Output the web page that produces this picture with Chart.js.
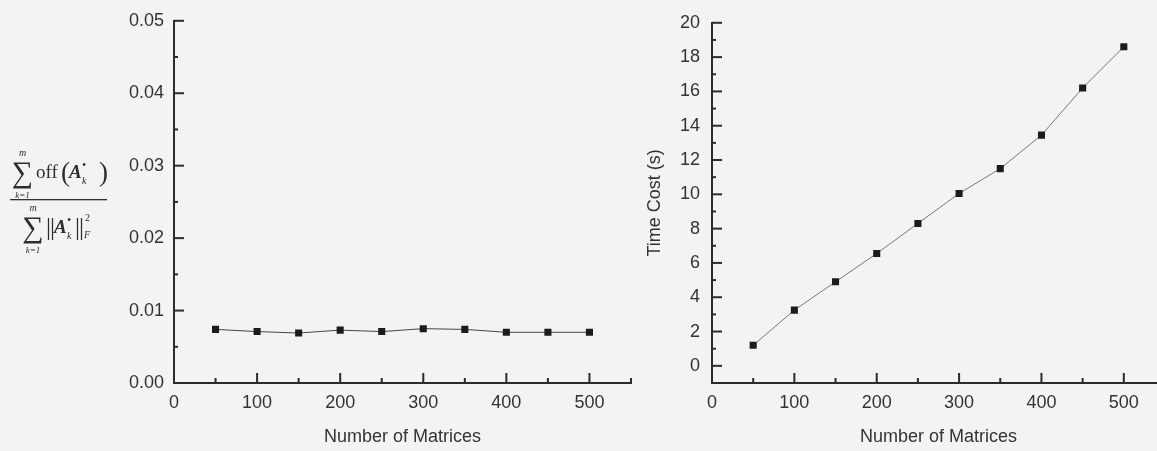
<!DOCTYPE html>
<html lang="en">
<head>
  <meta charset="UTF-8">
  <title>Off-diagonal ratio and time cost</title>
  <script src="https://cdn.jsdelivr.net/npm/chart.js"></script>
  <style>
    body { margin: 0; background: #f3f3f3; overflow: hidden; width: 1157px; height: 451px; position: relative; }
    canvas { position: absolute; top: 0; }
    #ratioChart { left: 0; }
    #timeChart { left: 640px; }
  </style>
</head>
<body>
  <canvas id="ratioChart" width="645" height="451"></canvas>
  <canvas id="timeChart" width="537" height="451"></canvas>

  <script>
    const matrixCounts = [50, 100, 150, 200, 250, 300, 350, 400, 450, 500];
    const offRatio = [0.0074, 0.0071, 0.0069, 0.0073, 0.0071, 0.0075, 0.0074, 0.0070, 0.0070, 0.0070];
    const timeCost = [1.2, 3.25, 4.9, 6.55, 8.3, 10.05, 11.5, 13.45, 16.2, 18.6];

    const countTicks = [0, 100, 200, 300, 400, 500];
    const ratioTicks = [0, 0.01, 0.02, 0.03, 0.04, 0.05];
    const timeTicks = [0, 2, 4, 6, 8, 10, 12, 14, 16, 18, 20];

    const ink = '#2b2b2b';
    Chart.defaults.font.family = '"Liberation Sans", Arial, sans-serif';
    Chart.defaults.color = '#333';

    // short tick marks pointing into the plot, with half-step minor ticks
    const innerTicks = {
      id: 'innerTicks',
      afterDraw(chart) {
        const { ctx, chartArea: area, scales: { x, y } } = chart;
        ctx.save();
        ctx.strokeStyle = ink;
        ctx.lineWidth = 2;
        const mark = (x1, y1, x2, y2) => {
          ctx.beginPath(); ctx.moveTo(x1, y1); ctx.lineTo(x2, y2); ctx.stroke();
        };
        const withMinor = ticks => {
          const out = [];
          const step = ticks[1] - ticks[0];
          ticks.forEach(v => { out.push([v, true]); out.push([v + step / 2, false]); });
          return out;
        };
        withMinor(x.ticks.map(t => t.value)).forEach(([v, major]) => {
          if (v <= x.min || v > x.max + 1e-9) return;
          const px = x.getPixelForValue(v);
          mark(px, area.bottom, px, area.bottom - (major ? 10 : 5));
        });
        withMinor(y.ticks.map(t => t.value)).forEach(([v, major]) => {
          if (v <= y.min || v > y.max + 1e-9) return;
          const py = y.getPixelForValue(v);
          mark(area.left, py, area.left + (major ? 10 : 4), py);
        });
        ctx.restore();
      }
    };

    // y label of the first panel: sum of off(A_k*) over sum of ||A_k*||_F^2
    const ratioLabel = {
      id: 'ratioLabel',
      afterDraw(chart) {
        const ctx = chart.ctx;
        const serif = '"Liberation Serif", "DejaVu Serif", serif';
        ctx.save();
        ctx.fillStyle = '#2e2e2e';
        const put = (s, x, y, size, style = '', align = 'left') => {
          ctx.font = `${style} ${size}px ${serif}`;
          ctx.textAlign = align;
          ctx.fillText(s, x, y);
        };
        // numerator
        put('\u2211', 22.5, 182, 30, '', 'center');
        put('m', 22.5, 156, 10, 'italic', 'center');
        put('k=1', 22.5, 198, 9, 'italic', 'center');
        put('off', 36, 178, 19);
        put('(', 61, 181, 27);
        put('A', 69, 178, 19, 'italic bold');
        put('k', 82, 184, 10, 'italic');
        put('\u2022', 82, 169, 12);
        put(')', 99, 181, 27);
        ctx.fillRect(10, 199, 97, 1.3);
        // denominator
        put('\u2211', 33, 237, 30, '', 'center');
        put('m', 33, 211, 10, 'italic', 'center');
        put('k=1', 33, 253, 9, 'italic', 'center');
        put('|', 46, 235, 25);
        put('|', 50, 235, 25);
        put('A', 54, 233, 19, 'italic bold');
        put('k', 67, 239, 10, 'italic');
        put('\u2022', 67, 224, 12);
        put('|', 75, 235, 25);
        put('|', 79, 235, 25);
        put('2', 85, 221, 10);
        put('F', 84, 238, 10, 'italic');
        ctx.restore();
      }
    };

    function lineChart(canvasId, values, yTicks, yMin, yMax, opts) {
      return new Chart(document.getElementById(canvasId), {
        type: 'line',
        data: {
          datasets: [{
            data: matrixCounts.map((n, i) => ({ x: n, y: values[i] })),
            borderColor: opts.lineColor,
            borderWidth: 1,
            pointStyle: 'rect',
            pointRadius: 5,
            pointBorderWidth: 0,
            pointBackgroundColor: '#1b1b1b'
          }]
        },
        options: {
          responsive: false,
          animation: false,
          layout: { padding: { top: 20, right: opts.padRight, left: 0, bottom: 0 } },
          plugins: { legend: { display: false }, tooltip: { enabled: false } },
          scales: {
            x: {
              type: 'linear',
              min: 0,
              max: 550,
              afterBuildTicks: s => { s.ticks = countTicks.map(v => ({ value: v })); },
              afterFit: s => { s.height = 68; },
              grid: { drawOnChartArea: false, drawTicks: false },
              border: { color: ink, width: 2 },
              ticks: { padding: 9, font: { size: 18 } },
              title: { display: true, text: 'Number of Matrices', font: { size: 18 }, padding: { top: 0, bottom: 3 } }
            },
            y: {
              min: yMin,
              max: yMax,
              afterBuildTicks: s => { s.ticks = yTicks.map(v => ({ value: v })); },
              afterFit: s => { s.width = opts.axisWidth; },
              grid: { drawOnChartArea: false, drawTicks: false },
              border: { color: ink, width: 2 },
              ticks: { padding: opts.labelGap, font: { size: 18 }, callback: opts.format },
              title: opts.yTitle
            }
          }
        },
        plugins: opts.plugins
      });
    }

    lineChart('ratioChart', offRatio, ratioTicks, 0, 0.05, {
      lineColor: '#444',
      padRight: 14,
      axisWidth: 174,
      labelGap: 10,
      format: v => v.toFixed(2),
      yTitle: { display: false },
      plugins: [innerTicks, ratioLabel]
    });

    lineChart('timeChart', timeCost, timeTicks, -1, 20, {
      lineColor: '#777',
      padRight: 12,
      axisWidth: 72,
      labelGap: 12,
      format: v => String(v),
      yTitle: { display: true, text: 'Time Cost (s)', font: { size: 18 }, padding: { top: 4, bottom: 0 } },
      plugins: [innerTicks]
    });
  </script>
</body>
</html>
